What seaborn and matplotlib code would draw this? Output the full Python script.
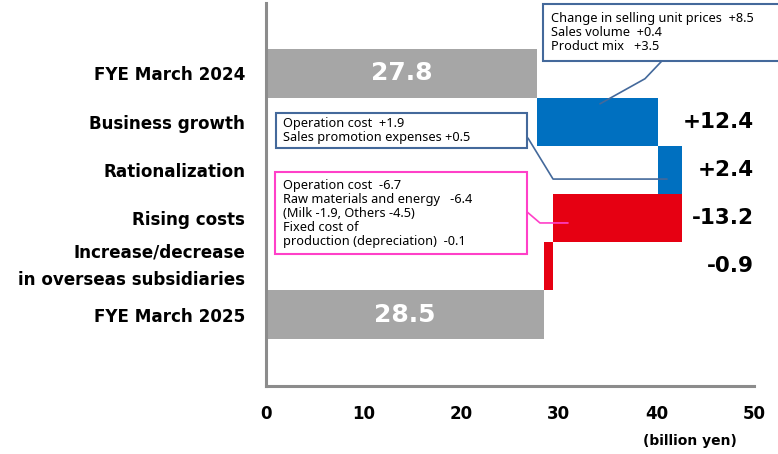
import matplotlib
matplotlib.use("Agg")
import matplotlib.pyplot as plt
import seaborn as sns
import pandas as pd
import numpy as np
from matplotlib.patches import Rectangle

# ---- data ----
categories = ["FYE March 2024", "Business growth", "Rationalization", "Rising costs",
              "Increase/decrease\nin overseas subsidiaries", "FYE March 2025"]
start_total = 27.8
changes = [12.4, 2.4, -13.2, -0.9]
end_total = 28.5
change_labels = ["+12.4", "+2.4", "-13.2", "-0.9"]
bar_colors = ["#A6A6A6", "#0070C0", "#0070C0", "#E60012", "#E60012", "#A6A6A6"]
xticks = [0, 10, 20, 30, 40, 50]

# waterfall geometry from the data
cum = start_total + np.cumsum(changes)
prev = np.concatenate([[start_total], cum[:-1]])
lefts = [0.0] + list(np.minimum(prev, cum)) + [0.0]
widths = [start_total] + list(np.abs(changes)) + [end_total]
df = pd.DataFrame({"cat": categories, "width": widths, "left": lefts})

sns.set_theme(style="white")
plt.rcParams["font.family"] = ["DejaVu Sans"]
plt.rcParams["text.color"] = "#000000"
plt.rcParams["xtick.color"] = "#000000"
plt.rcParams["ytick.color"] = "#000000"
plt.rcParams["xtick.labelcolor"] = "#000000"
plt.rcParams["ytick.labelcolor"] = "#000000"

fig = plt.figure(figsize=(7.78, 4.54), dpi=100)
ax = fig.add_axes([266 / 778, (454 - 386) / 454, 488 / 778, 383 / 454])

sns.barplot(data=df, x="width", y="cat", hue="cat", palette=bar_colors,
            saturation=1, width=1.0, linewidth=0, legend=False, ax=ax, orient="h")
# shift bars to their waterfall start
for patch, left in zip(ax.patches, df["left"]):
    patch.set_x(left)

ax.set_xlim(0, 50)
ax.set_ylim(6.48, -1.46)
ax.set_xlabel("")
ax.set_ylabel("")
ax.set_xticks(xticks)
ax.set_xticklabels([str(t) for t in xticks], fontsize=12, fontweight="bold", color="#000000")
ax.tick_params(axis="x", length=0, pad=14)
ax.tick_params(axis="y", length=0, pad=15)
for lbl in ax.get_yticklabels():
    lbl.set_fontsize(12.1)
    lbl.set_fontweight("bold")
    lbl.set_color("#000000")
    if "\n" in lbl.get_text():
        lbl.set_linespacing(1.7)
        lbl.set_va("center")
for s in ["top", "right"]:
    ax.spines[s].set_visible(False)
for s in ["left", "bottom"]:
    ax.spines[s].set_color("#8C8C8C")
    ax.spines[s].set_linewidth(2.2)
ax.grid(False)

# totals labels inside bars
for i in [0, 5]:
    ax.text(df["left"][i] + df["width"][i] / 2, i, f"{df['width'][i]:.1f}",
            ha="center", va="center", color="white", fontsize=18, fontweight="bold")
# change labels at right
for k, lab in enumerate(change_labels):
    ax.text(50, k + 1, lab, ha="right", va="center", fontsize=15.5,
            fontweight="bold", color="#000000", clip_on=False)

# ---- callout boxes ----
blue_edge = "#44699B"
pink_edge = "#FF40C8"
box_font = "Noto Sans"

def callout(x0, x1, y0, y1, tx, ty, text, edge, pts):
    ax.add_patch(Rectangle((x0, y0), x1 - x0, y1 - y0, facecolor="white",
                           edgecolor=edge, linewidth=1.5, clip_on=False, zorder=5))
    ax.text(tx, ty, text, ha="left", va="center", fontsize=9.2, family=box_font,
            linespacing=1.1, color="#000000", zorder=6, clip_on=False)
    xs, ys = zip(*pts)
    ax.plot(xs, ys, color=edge, linewidth=1.2, zorder=6, clip_on=False)

callout(28.38, 53.5, -1.44, -0.26, 29.2, -0.85,
        "Change in selling unit prices  +8.5\nSales volume  +0.4\nProduct mix   +3.5",
        blue_edge, [(40.57, -0.26), (38.83, 0.11), (34.22, 0.63)])
callout(1.02, 26.74, 0.82, 1.55, 1.74, 1.19,
        "Operation cost  +1.9\nSales promotion expenses +0.5",
        blue_edge, [(26.84, 1.34), (29.41, 2.19), (41.09, 2.19)])
callout(0.92, 26.74, 2.04, 3.74, 1.74, 2.91,
        "Operation cost  -6.7\nRaw materials and energy   -6.4\n(Milk -1.9, Others -4.5)\n"
        "Fixed cost of\nproduction (depreciation)  -0.1",
        pink_edge, [(26.74, 2.87), (28.07, 3.10), (30.94, 3.10)])

fig.text(690 / 778, 1 - 441 / 454, "(billion yen)", ha="center", va="center",
         fontsize=10, fontweight="bold", color="#000000")

fig.savefig("out.png", dpi=100)
